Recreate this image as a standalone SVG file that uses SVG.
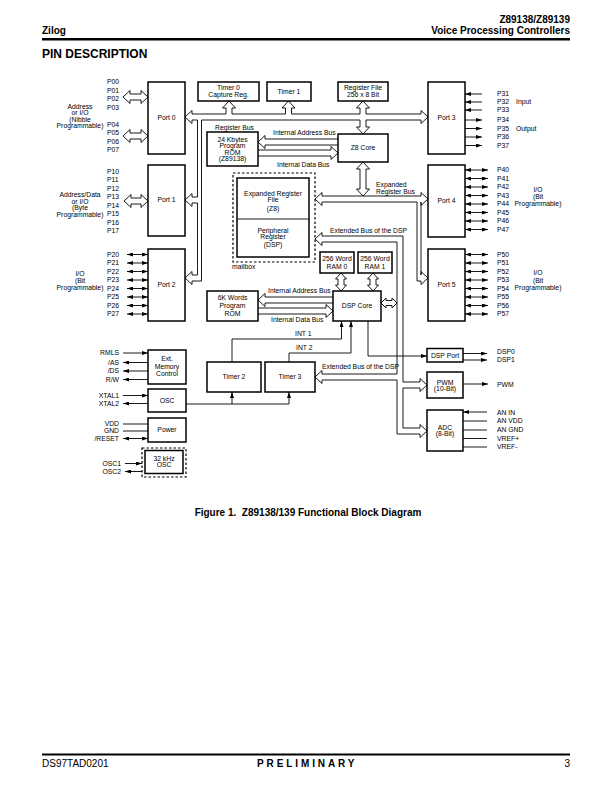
<svg xmlns="http://www.w3.org/2000/svg" width="612" height="792" viewBox="0 0 612 792">
<defs>
<style>
text{font-family:"Liberation Sans",Arial,Helvetica,sans-serif;fill:#000}
.t{font-size:6.8px}
.m{text-anchor:middle}
.e{text-anchor:end}
.h{font-weight:bold;font-size:10px}
.bx{fill:#fff;stroke:#000;stroke-width:1.5}
.ds{fill:none;stroke:#000;stroke-width:1.2;stroke-dasharray:2.5,2}
.ln{fill:none;stroke:#000;stroke-width:0.9}
.hw{fill:#fff;stroke:#000;stroke-width:0.9}
.ar{fill:none;stroke:#000;stroke-width:0.9;marker-end:url(#a)}
.ar2{fill:none;stroke:#000;stroke-width:0.9;marker-start:url(#a);marker-end:url(#a)}
</style>
<marker id="a" viewBox="0 0 6 4" refX="6" refY="2" markerWidth="6" markerHeight="4" markerUnits="userSpaceOnUse" orient="auto-start-reverse"><path d="M0,0L6,2L0,4z"/></marker>
</defs>
<rect width="612" height="792" fill="#fff"/>

<g id="header">
<text class="h e" x="570" y="23">Z89138/Z89139</text>
<text class="h" x="42" y="34">Zilog</text>
<text class="h e" x="570" y="34">Voice Processing Controllers</text>
<rect x="42" y="38" width="528" height="2.5"/>
<text x="42" y="58" style="font-weight:bold;font-size:12px">PIN DESCRIPTION</text>
</g>

<g id="connectors">
<!-- register bus -->
<path class="ln" d="M192,114 V110.5 L185,117 L192,123.5 V120"/>
<path class="ln" d="M192,114 H226 M232,114 H285.5 M291.5,114 H360 M366,114 H421"/>
<path class="ln" d="M421,114 V110.5 L428,117 L421,123.5 V120"/>
<path class="ln" d="M201.5,120 H360 M366,120 H421"/>
<path class="ln" d="M226,114 V108 H222.5 L229,101 L235.5,108 H232 V114"/>
<path class="ln" d="M285.5,114 V108 H282 L288.5,101 L295,108 H291.5 V114"/>
<path class="ln" d="M360,114 V108 H356.5 L363,101 L369.5,108 H366 V114"/>
<path class="ln" d="M360,120 V127 H356.5 L363,134 L369.5,127 H366 V120"/>
<!-- left branch to Port 1 / Port 2 -->
<path class="ln" d="M192,120 H197.5 V197 H192"/>
<path class="ln" d="M192,197 V193.5 L185,200 L192,206.5 V203"/>
<path class="ln" d="M192,203 H197.5 V275 H192"/>
<path class="ln" d="M192,275 V271.5 L185,278 L192,284.5 V281 H201.5 V120"/>
<!-- port 0/1 pin buses -->
<polygon class="hw" points="123,97 130,90.5 130,94 141,94 141,90.5 148,97 141,103.5 141,100 130,100 130,103.5"/>
<polygon class="hw" points="123,136 130,129.5 130,133 141,133 141,129.5 148,136 141,142.5 141,139 130,139 130,142.5"/>
<polygon class="hw" points="124,201 131,194.5 131,198 141,198 141,194.5 148,201 141,207.5 141,204 131,204 131,207.5"/>
<!-- Z8 core to ROM -->
<path class="ln" d="M338,139 H265 V135.5 L258,142 L265,148.5 V145 H338"/>
<path class="ln" d="M258,150 H331 V146.5 L338,153 L331,159.5 V156 H258"/>
<!-- Z8 core to expanded register bus -->
<polygon class="hw" points="363,162 369.5,169 366,169 366,189 369.5,189 363,196 356.5,189 360,189 360,169 356.5,169"/>
<!-- expanded register bus -->
<path class="ln" d="M322,196 V192.5 L315,199 L322,205.5 V202"/>
<path class="ln" d="M322,196 H421"/>
<path class="ln" d="M421,196 V192.5 L428,199 L421,205.5 V202"/>
<path class="ln" d="M322,202 H417 V281 H421"/>
<path class="ln" d="M421,202 V275"/>
<path class="ln" d="M421,275 V271.5 L428,278 L421,284.5 V281"/>
<!-- extended bus of the DSP -->
<path class="ln" d="M322,236 V232.5 L315,239 L322,245.5 V242"/>
<path class="ln" d="M322,236 H403 V382 H420"/>
<path class="ln" d="M322,242 H397 V374 H322"/>
<path class="ln" d="M322,374 V370.5 L315,377 L322,383.5 V380"/>
<path class="ln" d="M322,380 H397 V434 H420"/>
<path class="ln" d="M420,382 V378.5 L427,385 L420,391.5 V388"/>
<path class="ln" d="M420,388 H403 V428 H420"/>
<path class="ln" d="M420,428 V424.5 L427,431 L420,437.5 V434"/>
<polygon class="hw" points="381,303 386,298 386,300.5 392,300.5 392,298 397,303 392,308 392,305.5 386,305.5 386,308"/>
<!-- RAM to DSP core -->
<polygon class="hw" points="341,273 346.5,279 344,279 344,285 346.5,285 341,291 335.5,285 338,285 338,279 335.5,279"/>
<polygon class="hw" points="373,273 378.5,279 376,279 376,285 378.5,285 373,291 367.5,285 370,285 370,279 367.5,279"/>
<!-- DSP core to 6K ROM -->
<path class="ln" d="M333,297 H265 V293.5 L258,300 L265,306.5 V303 H333"/>
<path class="ln" d="M258,308 H326 V304.5 L333,311 L326,317.5 V314 H258"/>
<!-- INT lines, DSP port -->
<path class="ar" d="M232,362 V339 H341.5 V321"/>
<path class="ar" d="M289,362 V353 H351 V321"/>
<path class="ar" d="M368,321 V356 H427"/>
<!-- OSC to timers -->
<path class="ar" d="M186,404 H289 V392"/>
<path class="ar" d="M232,404 V392"/>
<!-- Port 2 pins -->
<line class="ar2" x1="127" y1="254.5" x2="148" y2="254.5"/><line class="ar2" x1="127" y1="263" x2="148" y2="263"/>
<line class="ar2" x1="127" y1="271.5" x2="148" y2="271.5"/><line class="ar2" x1="127" y1="280" x2="148" y2="280"/>
<line class="ar2" x1="127" y1="288.5" x2="148" y2="288.5"/><line class="ar2" x1="127" y1="297" x2="148" y2="297"/>
<line class="ar2" x1="127" y1="305.5" x2="148" y2="305.5"/><line class="ar2" x1="127" y1="314" x2="148" y2="314"/>
<!-- Port 3 pins -->
<line class="ar" x1="482" y1="94" x2="465" y2="94"/><line class="ar" x1="482" y1="102" x2="465" y2="102"/>
<line class="ar" x1="482" y1="110" x2="465" y2="110"/>
<line class="ar" x1="465" y1="120" x2="482" y2="120"/><line class="ar" x1="465" y1="128.5" x2="482" y2="128.5"/>
<line class="ar" x1="465" y1="137" x2="482" y2="137"/><line class="ar" x1="465" y1="145.5" x2="482" y2="145.5"/>
<!-- Port 4 pins -->
<line class="ar2" x1="465" y1="170" x2="488" y2="170"/><line class="ar2" x1="465" y1="178.5" x2="488" y2="178.5"/>
<line class="ar2" x1="465" y1="187" x2="488" y2="187"/><line class="ar2" x1="465" y1="195.5" x2="488" y2="195.5"/>
<line class="ar2" x1="465" y1="204" x2="488" y2="204"/><line class="ar2" x1="465" y1="212.5" x2="488" y2="212.5"/>
<line class="ar2" x1="465" y1="221" x2="488" y2="221"/><line class="ar2" x1="465" y1="229.5" x2="488" y2="229.5"/>
<!-- Port 5 pins -->
<line class="ar2" x1="465" y1="254.5" x2="488" y2="254.5"/><line class="ar2" x1="465" y1="263" x2="488" y2="263"/>
<line class="ar2" x1="465" y1="271.5" x2="488" y2="271.5"/><line class="ar2" x1="465" y1="280" x2="488" y2="280"/>
<line class="ar2" x1="465" y1="288.5" x2="488" y2="288.5"/><line class="ar2" x1="465" y1="297" x2="488" y2="297"/>
<line class="ar2" x1="465" y1="305.5" x2="488" y2="305.5"/><line class="ar2" x1="465" y1="314" x2="488" y2="314"/>
<!-- lower left pins -->
<line class="ar" x1="123" y1="353" x2="148" y2="353"/>
<line class="ar" x1="148" y1="362.5" x2="123" y2="362.5"/>
<line class="ar" x1="148" y1="371" x2="123" y2="371"/>
<line class="ar" x1="148" y1="379.5" x2="123" y2="379.5"/>
<line class="ar" x1="123" y1="395.5" x2="148" y2="395.5"/>
<line class="ar" x1="148" y1="403.5" x2="123" y2="403.5"/>
<line class="ln" x1="123" y1="424" x2="148" y2="424"/>
<line class="ln" x1="123" y1="431" x2="148" y2="431"/>
<line class="ar2" x1="123" y1="438.5" x2="148" y2="438.5"/>
<line class="ar" x1="125" y1="463.5" x2="142" y2="463.5"/>
<line class="ar" x1="142" y1="471.5" x2="125" y2="471.5"/>
<!-- lower right pins -->
<line class="ar" x1="463" y1="353.5" x2="487" y2="353.5"/>
<line class="ar" x1="463" y1="360" x2="487" y2="360"/>
<line class="ar" x1="463" y1="384" x2="488" y2="384"/>
<line class="ar" x1="487" y1="412" x2="463" y2="412"/>
<line class="ln" x1="463" y1="421" x2="487" y2="421"/>
<line class="ln" x1="463" y1="430" x2="487" y2="430"/>
<line class="ln" x1="463" y1="438.5" x2="487" y2="438.5"/>
<line class="ln" x1="463" y1="447" x2="487" y2="447"/>
</g>

<g id="port0"><rect class="bx" x="148" y="82" width="37" height="72"/><text class="t m" x="166.5" y="120.3">Port 0</text></g>
<g id="port1"><rect class="bx" x="148" y="165" width="37" height="71"/><text class="t m" x="166.5" y="202.3">Port 1</text></g>
<g id="port2"><rect class="bx" x="148" y="249" width="37" height="72"/><text class="t m" x="166.5" y="287.3">Port 2</text></g>
<g id="port3"><rect class="bx" x="428" y="82" width="37" height="72"/><text class="t m" x="446.5" y="120.3">Port 3</text></g>
<g id="port4"><rect class="bx" x="428" y="165" width="37" height="72"/><text class="t m" x="446.5" y="203.3">Port 4</text></g>
<g id="port5"><rect class="bx" x="428" y="249" width="37" height="72"/><text class="t m" x="446.5" y="287.3">Port 5</text></g>

<g id="timer0"><rect class="bx" x="198" y="82" width="61" height="19"/><text class="t m" x="228.5" y="90.4">Timer 0</text><text class="t m" x="228.5" y="97.2">Capture Reg.</text></g>
<g id="timer1"><rect class="bx" x="267" y="82" width="44" height="19"/><text class="t m" x="289" y="94">Timer 1</text></g>
<g id="regfile"><rect class="bx" x="338" y="82" width="50" height="19"/><text class="t m" x="363" y="90.4">Register File</text><text class="t m" x="363" y="97.2">256 x 8 Bit</text></g>

<g id="rom24k"><rect class="bx" x="207" y="132" width="51" height="34"/>
<text class="t m" x="232.5" y="141.8">24 Kbytes</text><text class="t m" x="232.5" y="148.3">Program</text><text class="t m" x="232.5" y="154.8">ROM</text><text class="t m" x="232.5" y="161.3">(Z89138)</text></g>
<g id="z8core"><rect class="bx" x="338" y="134" width="50" height="28"/><text class="t m" x="363" y="150.3">Z8 Core</text></g>

<g id="mailbox"><rect class="ds" x="233" y="173" width="82" height="89"/>
<rect class="bx" x="237" y="178" width="72" height="79"/><line x1="237" y1="219" x2="309" y2="219" stroke="#000" stroke-width="0.9"/>
<text class="t m" x="273" y="195.6">Expanded Register</text><text class="t m" x="273" y="202.3">File</text><text class="t m" x="273" y="210.6">(Z8)</text>
<text class="t m" x="273" y="233.3">Peripheral</text><text class="t m" x="273" y="239.3">Register</text><text class="t m" x="273" y="246.8">(DSP)</text>
<text class="t" x="232" y="269.3">mailbox</text></g>

<g id="ram0"><rect class="bx" x="320" y="252" width="34" height="21"/><text class="t m" x="337" y="261.3">256 Word</text><text class="t m" x="337" y="269">RAM 0</text></g>
<g id="ram1"><rect class="bx" x="358" y="252" width="34" height="21"/><text class="t m" x="375" y="261.3">256 Word</text><text class="t m" x="375" y="269">RAM 1</text></g>
<g id="dspcore"><rect class="bx" x="333" y="291" width="48" height="30"/><text class="t m" x="357" y="308.3">DSP Core</text></g>
<g id="rom6k"><rect class="bx" x="207" y="291" width="51" height="30"/><text class="t m" x="232.5" y="300">6K Words</text><text class="t m" x="232.5" y="308">Program</text><text class="t m" x="232.5" y="315.6">ROM</text></g>

<g id="timer2"><rect class="bx" x="207" y="362" width="54" height="30"/><text class="t m" x="234" y="379.3">Timer 2</text></g>
<g id="timer3"><rect class="bx" x="265" y="362" width="50" height="30"/><text class="t m" x="290" y="379.3">Timer 3</text></g>

<g id="extmem"><rect class="bx" x="148" y="350" width="38" height="34"/><text class="t m" x="167" y="361.3">Ext.</text><text class="t m" x="167" y="369">Memory</text><text class="t m" x="167" y="375.6">Control</text></g>
<g id="osc"><rect class="bx" x="148" y="389" width="38" height="23"/><text class="t m" x="167" y="402.8">OSC</text></g>
<g id="power"><rect class="bx" x="148" y="418" width="38" height="24"/><text class="t m" x="167" y="432.3">Power</text></g>
<g id="osc32"><rect class="ds" x="142" y="448" width="44" height="29"/><rect class="bx" x="145" y="450.5" width="38" height="23"/><text class="t m" x="164" y="460.6">32 kHz</text><text class="t m" x="164" y="467.3">OSC</text></g>

<g id="dspport"><rect class="bx" x="427" y="348.5" width="36" height="13.5"/><text class="t m" x="445" y="357.8">DSP Port</text></g>
<g id="pwm"><rect class="bx" x="427" y="372" width="36" height="26"/><text class="t m" x="445" y="384.8">PWM</text><text class="t m" x="445" y="390.8">(10-Bit)</text></g>
<g id="adc"><rect class="bx" x="427" y="410" width="36" height="41"/><text class="t m" x="445" y="429.6">ADC</text><text class="t m" x="445" y="436.3">(8-Bit)</text></g>

<g id="labels">
<text class="t" x="107" y="84.3">P00</text><text class="t" x="107" y="92.8">P01</text><text class="t" x="107" y="101.3">P02</text><text class="t" x="107" y="109.8">P03</text>
<text class="t" x="107" y="126.8">P04</text><text class="t" x="107" y="135.3">P05</text><text class="t" x="107" y="143.8">P06</text><text class="t" x="107" y="152.3">P07</text>
<text class="t m" x="80" y="108.8">Address</text><text class="t m" x="80" y="115.3">or I/O</text><text class="t m" x="80" y="121.8">(Nibble</text><text class="t m" x="80" y="128.3">Programmable)</text>
<text class="t" x="107" y="173.8">P10</text><text class="t" x="107" y="182.3">P11</text><text class="t" x="107" y="190.8">P12</text><text class="t" x="107" y="199.3">P13</text>
<text class="t" x="107" y="207.8">P14</text><text class="t" x="107" y="216.3">P15</text><text class="t" x="107" y="224.8">P16</text><text class="t" x="107" y="233.3">P17</text>
<text class="t m" x="80" y="197.3">Address/Data</text><text class="t m" x="80" y="203.8">or I/O</text><text class="t m" x="80" y="210.3">(Byte</text><text class="t m" x="80" y="216.8">Programmable)</text>
<text class="t" x="107" y="256.8">P20</text><text class="t" x="107" y="265.3">P21</text><text class="t" x="107" y="273.8">P22</text><text class="t" x="107" y="282.3">P23</text>
<text class="t" x="107" y="290.8">P24</text><text class="t" x="107" y="299.3">P25</text><text class="t" x="107" y="307.8">P26</text><text class="t" x="107" y="316.3">P27</text>
<text class="t m" x="80" y="276.3">I/O</text><text class="t m" x="80" y="283.3">(Bit</text><text class="t m" x="80" y="290.3">Programmable)</text>

<text class="t" x="497" y="96.3">P31</text><text class="t" x="497" y="104.3">P32</text><text class="t" x="497" y="112.3">P33</text>
<text class="t" x="497" y="122.3">P34</text><text class="t" x="497" y="130.8">P35</text><text class="t" x="497" y="139.3">P36</text><text class="t" x="497" y="147.8">P37</text>
<text class="t" x="516" y="104.3">Input</text><text class="t" x="516" y="130.8">Output</text>
<text class="t" x="497" y="172.3">P40</text><text class="t" x="497" y="180.8">P41</text><text class="t" x="497" y="189.3">P42</text><text class="t" x="497" y="197.8">P43</text>
<text class="t" x="497" y="206.3">P44</text><text class="t" x="497" y="214.8">P45</text><text class="t" x="497" y="223.3">P46</text><text class="t" x="497" y="231.8">P47</text>
<text class="t m" x="538" y="192.3">I/O</text><text class="t m" x="538" y="199.3">(Bit</text><text class="t m" x="538" y="206.3">Programmable)</text>
<text class="t" x="497" y="256.8">P50</text><text class="t" x="497" y="265.3">P51</text><text class="t" x="497" y="273.8">P52</text><text class="t" x="497" y="282.3">P53</text>
<text class="t" x="497" y="290.8">P54</text><text class="t" x="497" y="299.3">P55</text><text class="t" x="497" y="307.8">P56</text><text class="t" x="497" y="316.3">P57</text>
<text class="t m" x="538" y="275.3">I/O</text><text class="t m" x="538" y="282.8">(Bit</text><text class="t m" x="538" y="290.3">Programmable)</text>

<text class="t" x="215" y="130">Register Bus</text>
<text class="t" x="273" y="135.3">Internal Address Bus</text>
<text class="t" x="277" y="166.6">Internal Data Bus</text>
<text class="t" x="376" y="187.3">Expanded</text><text class="t" x="376" y="194.3">Register Bus</text>
<text class="t" x="330" y="233">Extended Bus of the DSP</text>
<text class="t" x="268" y="293.3">Internal Address Bus</text>
<text class="t" x="271" y="322.3">Internal Data Bus</text>
<text class="t" x="295" y="335.6">INT 1</text>
<text class="t" x="296" y="350">INT 2</text>
<text class="t" x="322" y="369">Extended Bus of the DSP</text>

<text class="t e" x="119" y="355.3">RMLS</text><text class="t e" x="119" y="364.8">/AS</text><text class="t e" x="119" y="373.3">/DS</text><text class="t e" x="119" y="381.8">R/W</text>
<text class="t e" x="119" y="397.8">XTAL1</text><text class="t e" x="119" y="405.8">XTAL2</text>
<text class="t e" x="119" y="426.3">VDD</text><text class="t e" x="119" y="433.3">GND</text><text class="t e" x="119" y="440.8">/RESET</text>
<text class="t e" x="121" y="465.8">OSC1</text><text class="t e" x="121" y="473.8">OSC2</text>

<text class="t" x="497" y="354.3">DSP0</text><text class="t" x="497" y="362.3">DSP1</text>
<text class="t" x="497" y="387">PWM</text>
<text class="t" x="497" y="414.8">AN IN</text><text class="t" x="497" y="423.3">AN VDD</text><text class="t" x="497" y="432.3">AN GND</text><text class="t" x="497" y="440.8">VREF+</text><text class="t" x="497" y="449.3">VREF-</text>
</g>

<g id="caption"><text class="h m" x="308" y="516" style="white-space:pre">Figure 1.  Z89138/139 Functional Block Diagram</text></g>

<g id="footer">
<rect x="42" y="753.5" width="528" height="2"/>
<text x="42" y="767" style="font-size:10px">DS97TAD0201</text>
<text class="h" x="257" y="767" style="letter-spacing:2.9px">PRELIMINARY</text>
<text class="e" x="570" y="767" style="font-size:10px">3</text>
</g>
</svg>
